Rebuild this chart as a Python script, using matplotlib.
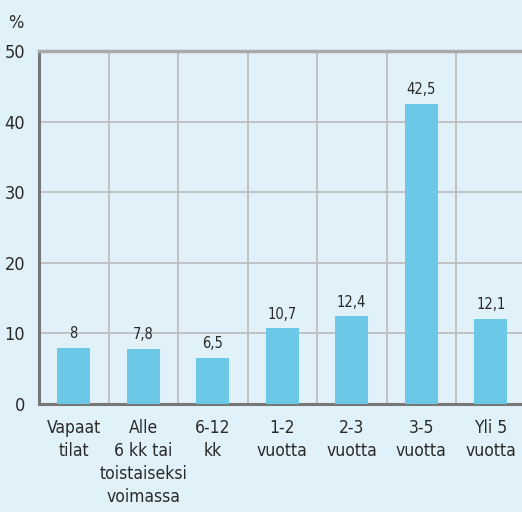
import matplotlib
matplotlib.use("Agg")
import matplotlib.pyplot as plt

categories = ["Vapaat\ntilat", "Alle\n6 kk tai\ntoistaiseksi\nvoimassa", "6-12\nkk",
              "1-2\nvuotta", "2-3\nvuotta", "3-5\nvuotta", "Yli 5\nvuotta"]
values = [8, 7.8, 6.5, 10.7, 12.4, 42.5, 12.1]
value_labels = ["8", "7,8", "6,5", "10,7", "12,4", "42,5", "12,1"]
yticks = [0, 10, 20, 30, 40, 50]

bg = "#e0f1f9"
bar_color = "#6bc8e6"
grid_color = "#bdbdc0"
text_color = "#2a2a2a"

plt.rcParams['font.family'] = ['DejaVu Sans']
plt.rcParams['font.stretch'] = 'condensed'

W, H = 522, 512
fig = plt.figure(figsize=(W / 100, H / 100), dpi=100, facecolor=bg)
left, right, top, bottom = 39, 525.5, 51, 404
ax = fig.add_axes([left / W, 1 - bottom / H, (right - left) / W, (bottom - top) / H])
ax.set_facecolor(bg)

x = list(range(len(values)))
ax.bar(x, values, width=0.48, color=bar_color, zorder=3)
for xi, v, lab in zip(x, values, value_labels):
    ax.annotate(lab, (xi, v), xytext=(0, 5), textcoords="offset points",
                ha="center", va="bottom", fontsize=10.5, color=text_color)

ax.set_xlim(-0.5, len(values) - 0.5)
ax.set_ylim(0, 50)
ax.set_yticks(yticks)
ax.set_yticklabels([str(t) for t in yticks], fontsize=13, color=text_color)
ax.set_xticks(x)
ax.set_xticklabels(categories, fontsize=12.5, color=text_color, linespacing=1.35)
ax.tick_params(axis='x', length=0, pad=11)
ax.tick_params(axis='y', length=0, pad=10)

for xv in [i + 0.5 for i in range(len(values) - 1)]:
    ax.axvline(xv, color=grid_color, lw=1.3, zorder=1)
for yv in yticks[1:-1]:
    ax.axhline(yv, color=grid_color, lw=1.3, zorder=1)

ax.spines['right'].set_visible(False)
ax.spines['top'].set_color("#aaaaaa")
ax.spines['top'].set_linewidth(2.5)
ax.spines['left'].set_color("#777777")
ax.spines['left'].set_linewidth(2.2)
ax.spines['bottom'].set_color("#777777")
ax.spines['bottom'].set_linewidth(2.2)

fig.text(8 / W, 1 - 28 / H, "%", fontsize=13, color=text_color, ha="left", va="baseline")

fig.savefig("out.png", dpi=100, facecolor=bg)
